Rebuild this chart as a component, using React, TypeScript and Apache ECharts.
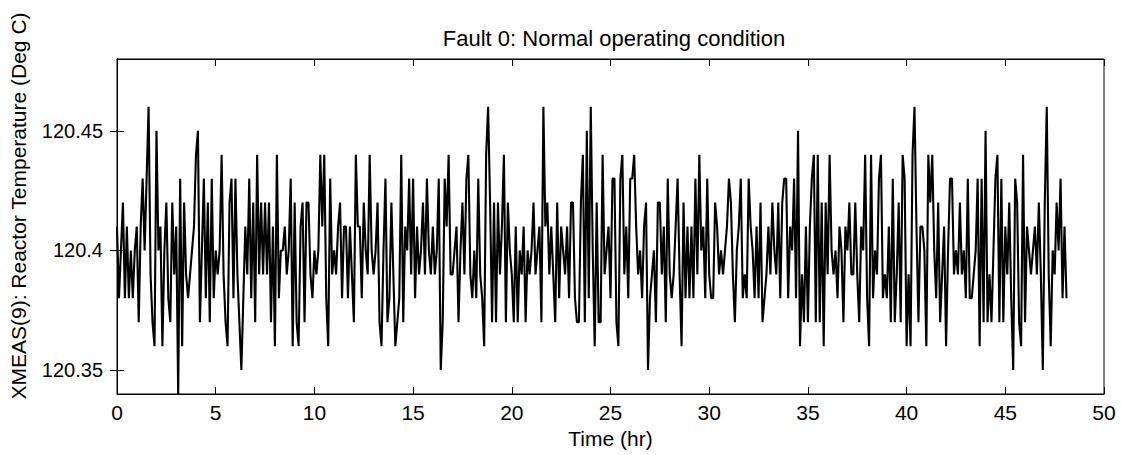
import React, { useEffect, useRef } from "react";
import * as echarts from "echarts";

// Reactor temperature readings, expressed as deviation from 120.40 degC in hundredths of a degree,
// one reading every 0.1 hr.
const baseTempDegC = 120.4;
const sampleStepHr = 0.1;

const dev_00_12h = [
  1, -2, 0, 2, -2, 1, -2, 0, -2, 0,
  1, -3, 1, 3, 0, 3, 6, -1, -3, -4,
  5, 0, 1, -4, 0, 2, -2, -3, 2, -1,
  1, -6, 3, -4, 2, -1, -2, -1, 0, 1,
  4, 5, -3, 0, 3, -2, 2, -3, 3, -2,
  0, -1, 0, 4, -1, -3, -4, 2, 3, -2,
  3, -1, -3, -5, -2, 1, -1, 3, -2, 2,
  -3, 4, -1, 2, -1, 2, -1, 2, -3, 1,
  -4, 4, -2, 0, 0, 1, -1, 0, 3, -4,
  2, -3, -4, 1, 2, -3, 2, 2, -1, -2,
  0, -1, 0, 4, 1, 4, -2, -4, 3, -1,
  0, -1, 1, 2, -2, 1, 1, -2, 1, -1,
];

const dev_12_24h = [
  -3, 4, 1, 1, -2, 2, 0, -1, 4, 0,
  -1, 0, 2, -3, -4, 0, 3, -3, -2, 2,
  -1, -4, -3, -2, 4, -3, 1, 0, 3, -1,
  3, -2, 1, -1, 0, 2, -1, 3, 0, -1,
  1, -1, 0, 3, -5, -3, 3, 1, 4, -1,
  -1, 0, 1, -3, 0, 2, -1, 3, 4, -1,
  -2, 0, -2, 3, -1, -2, -4, 4, 6, 2,
  -3, 2, -3, 2, -1, 1, 4, -3, 2, 0,
  -1, -3, 1, -3, 0, -1, 1, -3, 0, -1,
  0, 2, -1, 0, 1, -3, 6, 1, 2, -1,
  1, -1, -3, 2, -2, 1, 0, -1, 1, -2,
  2, 2, -2, -3, -3, 2, 4, -3, 5, -2,
];

const dev_24_36h = [
  6, 0, -4, 2, -3, -3, 4, -1, 0, 1,
  -2, 3, 3, -3, -4, 3, 4, -1, 1, -2,
  3, 3, 4, 1, -1, 0, -2, 1, 2, -5,
  -2, -1, 0, -3, 2, 2, -1, 1, -3, 3,
  -1, -2, -1, 1, 3, -1, -4, 2, -2, 1,
  -2, 1, -2, 3, -1, 4, 0, 1, -2, 3,
  -1, -2, -2, 2, 1, -1, 0, -1, 0, 1,
  3, 2, -1, -3, 0, 1, 3, -2, -1, -2,
  3, 1, 0, -2, 1, -2, 2, -3, -2, -1,
  1, -1, 2, 0, -1, 2, -2, 2, 3, 3,
  -2, 1, 0, 3, -2, 5, -4, -1, -3, 1,
  -3, 1, 3, 4, -3, 4, -3, 2, -4, 2,
];

const dev_36_48h = [
  -1, 4, 0, -1, 0, -2, 1, 0, -3, 1,
  0, 2, -1, -1, 2, -1, -3, 1, 0, 4,
  -2, -4, 4, -2, 0, -1, 3, 4, -2, -1,
  -2, 1, -3, 3, -3, -1, 2, -3, 4, 3,
  -4, -1, -4, 4, 6, 1, -3, 1, 1, 0,
  -4, 4, 2, 4, 0, -2, 2, -3, -1, 1,
  -4, 0, 3, 3, -1, 0, -1, 2, -1, 0,
  -2, 3, -2, -2, -1, 0, 3, -4, 3, -3,
  5, -3, -1, -3, 0, 3, 4, -3, 3, -3,
  1, -1, 2, -2, -5, 3, 2, -3, -4, 4,
  -3, 1, 0, -1, 0, 1, -1, 2, -1, -5,
  2, 6, -1, -4, 0, -1, 2, 0, 3, -2,
  1, -2,
];

const xTickValues = [0, 5, 10, 15, 20, 25, 30, 35, 40, 45, 50];
const yTickValues = [120.35, 120.4, 120.45];

const titleText = "Fault 0: Normal operating condition";
const xAxisTitle = "Time (hr)";
const yAxisTitle = "XMEAS(9): Reactor Temperature (Deg C)";

const FONT = "'Liberation Sans', Arial, Helvetica, sans-serif";

export default function App() {
  const ref = useRef<HTMLDivElement>(null);

  useEffect(() => {
    if (!ref.current) return;
    const chart = echarts.init(ref.current, null, { renderer: "svg" });
    const devs = [...dev_00_12h, ...dev_12_24h, ...dev_24_36h, ...dev_36_48h];
    const data = devs.map((d, i) => [
      Number((i * sampleStepHr).toFixed(2)),
      Number((baseTempDegC + d / 100).toFixed(2)),
    ]);

    const tickStyle = { color: "#000", width: 1 };
    const xLabelStyle = { color: "#000", fontSize: 21, fontFamily: FONT };
    const yLabelStyle = { color: "#000", fontSize: 20, fontFamily: FONT };
    const nameStyle = { color: "#000", fontSize: 21, fontFamily: FONT };

    chart.setOption({
      animation: false,
      backgroundColor: "#fff",
      title: {
        text: titleText,
        left: 609,
        top: 22,
        textAlign: "center",
        textStyle: { color: "#000", fontSize: 22, fontWeight: "normal", fontFamily: FONT },
      },
      graphic: [
        {
          type: "text",
          x: 18,
          y: 206,
          rotation: Math.PI / 2,
          style: {
            text: yAxisTitle,
            fill: "#000",
            fontSize: 21,
            fontFamily: FONT,
            align: "center",
            verticalAlign: "middle",
          },
        },
      ],
      grid: {
        left: 117,
        right: 17,
        top: 59,
        bottom: 61,
        show: true,
        borderColor: "#000",
        borderWidth: 1,
        backgroundColor: "transparent",
        containLabel: false,
        outerBoundsMode: "none",
      },
      xAxis: [
        {
          type: "value",
          min: 0,
          max: 50,
          interval: 5,
          position: "bottom",
          axisLine: { show: true, lineStyle: tickStyle },
          axisTick: { show: true, inside: true, length: 7, lineStyle: tickStyle },
          axisLabel: { ...xLabelStyle, margin: 8, customValues: xTickValues },
          splitLine: { show: false },
          name: xAxisTitle,
          nameLocation: "middle",
          nameGap: 33,
          nameTextStyle: { ...nameStyle },
        },
        {
          type: "value",
          min: 0,
          max: 50,
          interval: 5,
          position: "top",
          axisLine: { show: true, lineStyle: tickStyle },
          axisTick: { show: true, inside: true, length: 7, lineStyle: tickStyle },
          axisLabel: { show: false },
          splitLine: { show: false },
        },
      ],
      yAxis: [
        {
          type: "value",
          min: 120.34,
          max: 120.48,
          position: "left",
          axisLine: { show: true, lineStyle: tickStyle },
          axisTick: { show: true, inside: true, length: 7, lineStyle: tickStyle, customValues: yTickValues },
          axisLabel: {
            ...yLabelStyle,
            margin: 14,
            customValues: yTickValues,
            formatter: (v: number) => String(Number(v.toFixed(2))),
          },
          splitLine: { show: false },
        },
        {
          type: "value",
          min: 120.34,
          max: 120.48,
          position: "right",
          axisLine: { show: true, lineStyle: tickStyle },
          axisTick: { show: true, inside: true, length: 7, lineStyle: tickStyle, customValues: yTickValues },
          axisLabel: { show: false },
          splitLine: { show: false },
        },
      ],
      series: [
        {
          type: "line",
          xAxisIndex: 0,
          yAxisIndex: 0,
          data,
          showSymbol: false,
          symbol: "none",
          lineStyle: { color: "#000", width: 2.1 },
        },
      ],
    });

    return () => chart.dispose();
  }, []);

  return (
    <div
      ref={ref}
      style={{ position: "absolute", left: 0, top: 0, width: 1121, height: 455 }}
    />
  );
}
